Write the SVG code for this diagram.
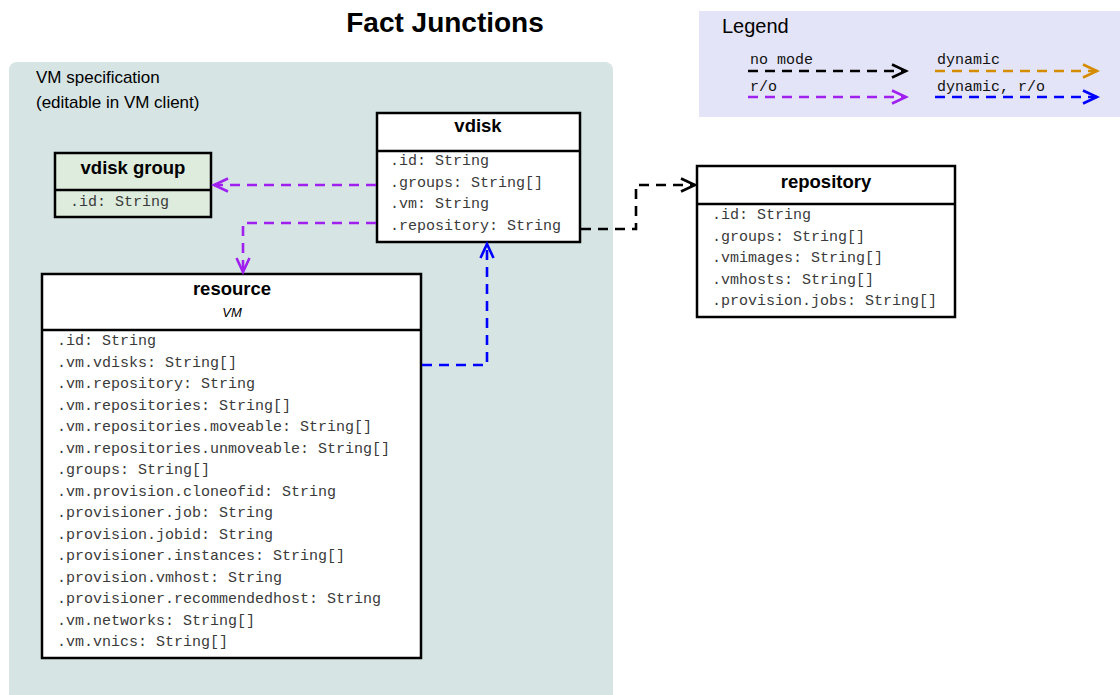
<svg xmlns="http://www.w3.org/2000/svg" width="1120" height="695" viewBox="0 0 1120 695">
<defs>
<style>
.title{font-family:"Liberation Sans",Arial,sans-serif;font-weight:bold;font-size:28px;fill:#000;text-anchor:middle}
.lbl{font-family:"Liberation Sans",Arial,sans-serif;font-size:17px;fill:#000}
.hdr{font-family:"Liberation Sans",Arial,sans-serif;font-weight:bold;font-size:18.5px;fill:#000;text-anchor:middle}
.sub{font-family:"Liberation Sans",Arial,sans-serif;font-style:italic;font-size:13px;fill:#000;text-anchor:middle}
.attr{font-family:"Liberation Mono","Courier New",monospace;font-size:15px;fill:#3a3a3a}
.box{fill:#fff;stroke:#000;stroke-width:2.5}
.sep{stroke:#000;stroke-width:2.5}
.edge{fill:none;stroke-width:2.6;stroke-dasharray:10,7}
.k{stroke:#000}.p{stroke:#a020f0}.o{stroke:#d48c00}.b{stroke:#0000ff}
</style>
<marker id="ak" markerUnits="userSpaceOnUse" markerWidth="18" markerHeight="18" refX="15" refY="8" orient="auto"><path d="M1,1.5 L15,8 L1,14.5" fill="none" stroke="#000" stroke-width="2.6"/></marker>
<marker id="ap" markerUnits="userSpaceOnUse" markerWidth="18" markerHeight="18" refX="15" refY="8" orient="auto"><path d="M1,1.5 L15,8 L1,14.5" fill="none" stroke="#a020f0" stroke-width="2.6"/></marker>
<marker id="ao" markerUnits="userSpaceOnUse" markerWidth="18" markerHeight="18" refX="15" refY="8" orient="auto"><path d="M1,1.5 L15,8 L1,14.5" fill="none" stroke="#d48c00" stroke-width="2.6"/></marker>
<marker id="ab" markerUnits="userSpaceOnUse" markerWidth="18" markerHeight="18" refX="15" refY="8" orient="auto"><path d="M1,1.5 L15,8 L1,14.5" fill="none" stroke="#0000ff" stroke-width="2.6"/></marker>
</defs>
<rect width="1120" height="695" fill="#fff"/>
<text class="title" x="445" y="32">Fact Junctions</text>

<g id="cluster-vmspec">
<rect x="9" y="62" width="604" height="650" rx="8" fill="#d6e4e4"/>
<text class="lbl" x="36" y="83">VM specification</text>
<text class="lbl" x="36" y="108">(editable in VM client)</text>
</g>

<g id="legend">
<rect x="699" y="11" width="421" height="106" fill="#e4e4f8"/>
<text class="lbl" x="722" y="33" style="font-size:20px">Legend</text>
<text class="attr" x="750" y="64" style="fill:#111">no mode</text>
<text class="attr" x="750" y="91" style="fill:#111">r/o</text>
<text class="attr" x="937" y="64" style="fill:#111">dynamic</text>
<text class="attr" x="937" y="91" style="fill:#111">dynamic, r/o</text>
<path class="edge k" d="M748,71 H906" marker-end="url(#ak)"/>
<path class="edge p" d="M748,97 H906" marker-end="url(#ap)"/>
<path class="edge o" d="M935,71 H1097" marker-end="url(#ao)"/>
<path class="edge b" d="M935,97 H1097" marker-end="url(#ab)"/>
</g>

<g id="node-vdisk-group">
<rect class="box" x="55" y="153" width="156" height="64" style="fill:#ddecdd"/>
<line class="sep" x1="55" y1="190" x2="211" y2="190"/>
<text class="hdr" x="133" y="174">vdisk group</text>
<text class="attr" x="70" y="206">.id: String</text>
</g>

<g id="node-vdisk">
<rect class="box" x="377" y="113" width="203" height="129"/>
<line class="sep" x1="377" y1="151" x2="580" y2="151"/>
<text class="hdr" x="478" y="132">vdisk</text>
<text class="attr" x="390" y="165">.id: String</text>
<text class="attr" x="390" y="187">.groups: String[]</text>
<text class="attr" x="390" y="208">.vm: String</text>
<text class="attr" x="390" y="230">.repository: String</text>
</g>

<g id="node-repository">
<rect class="box" x="697" y="166" width="258" height="151"/>
<line class="sep" x1="697" y1="204" x2="955" y2="204"/>
<text class="hdr" x="826" y="188">repository</text>
<text class="attr" x="712" y="219">.id: String</text>
<text class="attr" x="712" y="241">.groups: String[]</text>
<text class="attr" x="712" y="262">.vmimages: String[]</text>
<text class="attr" x="712" y="284">.vmhosts: String[]</text>
<text class="attr" x="712" y="305">.provision.jobs: String[]</text>
</g>

<g id="node-resource">
<rect class="box" x="42" y="274" width="379" height="384"/>
<line class="sep" x1="42" y1="330" x2="421" y2="330"/>
<text class="hdr" x="232" y="295">resource</text>
<text class="sub" x="232" y="317">VM</text>
<text class="attr" x="57" y="345">.id: String</text>
<text class="attr" x="57" y="367">.vm.vdisks: String[]</text>
<text class="attr" x="57" y="388">.vm.repository: String</text>
<text class="attr" x="57" y="410">.vm.repositories: String[]</text>
<text class="attr" x="57" y="431">.vm.repositories.moveable: String[]</text>
<text class="attr" x="57" y="453">.vm.repositories.unmoveable: String[]</text>
<text class="attr" x="57" y="474">.groups: String[]</text>
<text class="attr" x="57" y="496">.vm.provision.cloneofid: String</text>
<text class="attr" x="57" y="517">.provisioner.job: String</text>
<text class="attr" x="57" y="539">.provision.jobid: String</text>
<text class="attr" x="57" y="560">.provisioner.instances: String[]</text>
<text class="attr" x="57" y="582">.provision.vmhost: String</text>
<text class="attr" x="57" y="603">.provisioner.recommendedhost: String</text>
<text class="attr" x="57" y="625">.vm.networks: String[]</text>
<text class="attr" x="57" y="646">.vm.vnics: String[]</text>
</g>

<g id="connectors">
<path class="edge p" d="M376,185 H214" marker-end="url(#ap)"/>
<path class="edge p" d="M376,223 H243 V272" marker-end="url(#ap)"/>
<path class="edge b" d="M422,365 H487 V244" marker-end="url(#ab)"/>
<path class="edge k" d="M581,229 H636 V185 H695" marker-end="url(#ak)"/>
</g>
</svg>
